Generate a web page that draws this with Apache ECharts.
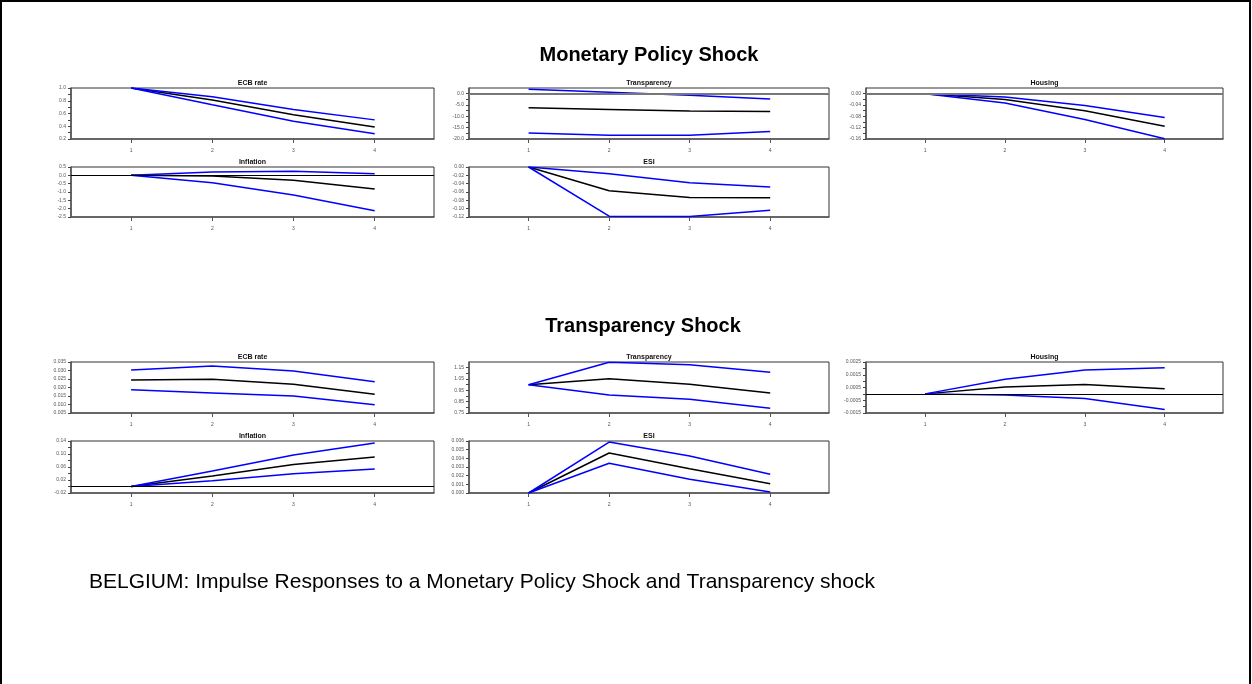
<!DOCTYPE html>
<html>
<head>
<meta charset="utf-8">
<title>BELGIUM impulse responses</title>
<script src="https://cdn.jsdelivr.net/npm/echarts@6/dist/echarts.min.js"></script>
<style>
html, body { margin: 0; padding: 0; background: #fff; }
#myChart { width: 1252px; height: 684px; }
</style>
</head>
<body>
<div id="myChart"></div>
<script>
// horizon (quarters)
var periods = [1, 2, 3, 4];

// Monetary Policy Shock  (upper band / response / lower band)
var mpEcbUpper = [1.0, 0.863, 0.663, 0.50];
var mpEcbMid = [1.0, 0.81, 0.58, 0.39];
var mpEcbLower = [1.0, 0.737, 0.479, 0.284];
var mpTranspUpper = [2.0, 0.6, -0.75, -2.3];
var mpTranspMid = [-6.2, -7.0, -7.7, -7.9];
var mpTranspLower = [-17.4, -18.3, -18.3, -16.7];
var mpHousingUpper = [0, -0.012, -0.042, -0.084];
var mpHousingMid = [0, -0.021, -0.06, -0.115];
var mpHousingLower = [0, -0.033, -0.091, -0.159];
var mpInflUpper = [0, 0.2, 0.24, 0.1];
var mpInflMid = [0, -0.04, -0.3, -0.82];
var mpInflLower = [0, -0.44, -1.18, -2.12];
var mpEsiUpper = [0, -0.016, -0.038, -0.048];
var mpEsiMid = [0, -0.057, -0.073, -0.074];
var mpEsiLower = [0, -0.118, -0.119, -0.104];

// Transparency Shock
var tsEcbUpper = [0.0303, 0.0326, 0.0297, 0.0234];
var tsEcbMid = [0.0244, 0.0248, 0.0219, 0.016];
var tsEcbLower = [0.0187, 0.0168, 0.015, 0.0099];
var tsTranspUpper = [1.0, 1.197, 1.176, 1.109];
var tsTranspMid = [1.0, 1.053, 1.003, 0.926];
var tsTranspLower = [1.0, 0.909, 0.871, 0.791];
var tsHousingUpper = [0, 0.00114, 0.00188, 0.00204];
var tsHousingMid = [0, 0.00053, 0.00074, 0.0004];
var tsHousingLower = [0, -0.00008, -0.00037, -0.00122];
var tsInflUpper = [0, 0.048, 0.097, 0.134];
var tsInflMid = [0, 0.032, 0.068, 0.091];
var tsInflLower = [0, 0.018, 0.039, 0.054];
var tsEsiUpper = [0, 0.00588, 0.00426, 0.00217];
var tsEsiMid = [0, 0.00462, 0.0028, 0.00107];
var tsEsiLower = [0, 0.00344, 0.00158, 0.00012];

// y tick labels
var mpEcbTicks = [0.2, 0.4, 0.6, 0.8, 1.0];
var mpTranspTicks = [-20, -15, -10, -5, 0];
var mpHousingTicks = [-0.16, -0.12, -0.08, -0.04, 0];
var mpInflTicks = [-2.5, -2.0, -1.5, -1.0, -0.5, 0, 0.5];
var mpEsiTicks = [-0.12, -0.10, -0.08, -0.06, -0.04, -0.02, 0];
var tsEcbTicks = [0.005, 0.010, 0.015, 0.020, 0.025, 0.030, 0.035];
var tsTranspTicks = [0.75, 0.85, 0.95, 1.05, 1.15];
var tsHousingTicks = [-0.0015, -0.0005, 0.0005, 0.0015, 0.0025];
var tsInflTicks = [-0.02, 0.02, 0.06, 0.10, 0.14];
var tsEsiTicks = [0, 0.001, 0.002, 0.003, 0.004, 0.005, 0.006];

var cols = [{ left: 71, width: 363 }, { left: 469, width: 360 }, { left: 866, width: 357 }];
var rows = [{ top: 88, height: 51 }, { top: 167, height: 50 }, { top: 362, height: 51 }, { top: 441, height: 52 }];

var panels = [
  { name: "ECB rate", r: 0, c: 0, up: mpEcbUpper, mid: mpEcbMid, lo: mpEcbLower, min: 0.2, max: 1.0, labels: mpEcbTicks, step: 0.1, digits: 1 },
  { name: "Transparency", r: 0, c: 1, up: mpTranspUpper, mid: mpTranspMid, lo: mpTranspLower, min: -20, max: 2.5, labels: mpTranspTicks, step: 2.5, digits: 1, zero: "gray" },
  { name: "Housing", r: 0, c: 2, up: mpHousingUpper, mid: mpHousingMid, lo: mpHousingLower, min: -0.16, max: 0.02, labels: mpHousingTicks, step: 0.02, digits: 2, zero: "gray" },
  { name: "Inflation", r: 1, c: 0, up: mpInflUpper, mid: mpInflMid, lo: mpInflLower, min: -2.5, max: 0.5, labels: mpInflTicks, step: 0.5, digits: 1, zero: "black" },
  { name: "ESI", r: 1, c: 1, up: mpEsiUpper, mid: mpEsiMid, lo: mpEsiLower, min: -0.12, max: 0, labels: mpEsiTicks, step: 0.02, digits: 2 },
  { name: "ECB rate", r: 2, c: 0, up: tsEcbUpper, mid: tsEcbMid, lo: tsEcbLower, min: 0.005, max: 0.035, labels: tsEcbTicks, step: 0.005, digits: 3 },
  { name: "Transparency", r: 2, c: 1, up: tsTranspUpper, mid: tsTranspMid, lo: tsTranspLower, min: 0.75, max: 1.2, labels: tsTranspTicks, step: 0.05, digits: 2 },
  { name: "Housing", r: 2, c: 2, up: tsHousingUpper, mid: tsHousingMid, lo: tsHousingLower, min: -0.0015, max: 0.0025, labels: tsHousingTicks, step: 0.0005, digits: 4, zero: "black" },
  { name: "Inflation", r: 3, c: 0, up: tsInflUpper, mid: tsInflMid, lo: tsInflLower, min: -0.02, max: 0.14, labels: tsInflTicks, step: 0.02, digits: 2, zero: "black" },
  { name: "ESI", r: 3, c: 1, up: tsEsiUpper, mid: tsEsiMid, lo: tsEsiLower, min: 0, max: 0.006, labels: tsEsiTicks, step: 0.001, digits: 3 }
];

function pairs(vals) {
  return periods.map(function (p, i) { return [p, vals[i]]; });
}

function steps(min, max, step) {
  var out = [];
  var n = Math.round((max - min) / step);
  for (var i = 0; i <= n; i++) out.push(Math.round((min + i * step) * 1e7) / 1e7);
  return out;
}

var myChart = echarts.init(document.getElementById("myChart"));

var option = {
  backgroundColor: "#fff",
  animation: false,
  textStyle: { fontFamily: "Liberation Sans, Arial, sans-serif" },
  title: [
    { text: "Monetary Policy Shock", left: 644, top: 40, textAlign: "center",
      textStyle: { fontSize: 20, fontWeight: "bold", color: "#000" } },
    { text: "Transparency Shock", left: 638, top: 311, textAlign: "center",
      textStyle: { fontSize: 20, fontWeight: "bold", color: "#000" } },
    { text: "BELGIUM: Impulse Responses to a Monetary Policy Shock and Transparency shock", left: 84, top: 567,
      textStyle: { fontSize: 21, fontWeight: "normal", color: "#000" } }
  ],
  graphic: [
    { type: "rect", shape: { x: 1, y: 1, width: 1249, height: 720 }, silent: true,
      style: { fill: "none", stroke: "#000", lineWidth: 2 } }
  ],
  grid: [],
  xAxis: [],
  yAxis: [],
  series: []
};

panels.forEach(function (p, i) {
  var col = cols[p.c], row = rows[p.r];
  // panel title sits just above the frame
  option.title.push({
    text: p.name, left: col.left + col.width / 2, top: row.top - 8, textAlign: "center", padding: 0,
    textStyle: { fontSize: 7, fontWeight: "bold", color: "#111" }
  });
  option.grid.push({
    left: col.left, top: row.top, width: col.width, height: row.height,
    show: true, borderColor: "#333", borderWidth: 1, backgroundColor: "transparent"
  });
  option.xAxis.push({
    type: "value", gridIndex: i, min: 0.26, max: 4.73,
    axisLine: { show: true, onZero: false, lineStyle: { color: "#555", width: 1.5 } },
    axisTick: { show: true, length: 4, customValues: periods, lineStyle: { color: "#555" } },
    axisLabel: { customValues: periods, fontSize: 5, color: "#555", margin: 9 },
    splitLine: { show: false }
  });
  option.yAxis.push({
    type: "value", gridIndex: i, min: p.min, max: p.max,
    axisLine: { show: true, onZero: false, lineStyle: { color: "#555", width: 1.5 } },
    axisTick: { show: true, length: 3, customValues: steps(p.min, p.labels[p.labels.length - 1], p.step), lineStyle: { color: "#444" } },
    axisLabel: {
      customValues: p.labels, fontSize: 5, color: "#555", margin: 5,
      formatter: function (v) { return Number(v).toFixed(p.digits); }
    },
    splitLine: { show: false }
  });

  var mid = {
    name: p.name + " response", type: "line", xAxisIndex: i, yAxisIndex: i,
    data: pairs(p.mid), showSymbol: false, symbol: "none",
    lineStyle: { color: "#000", width: 1.5 }, z: 3
  };
  if (p.zero) {
    mid.markLine = {
      silent: true, symbol: "none", label: { show: false },
      lineStyle: p.zero === "gray" ? { color: "#777", width: 2, type: "solid" } : { color: "#000", width: 1, type: "solid" },
      data: [{ yAxis: 0 }]
    };
  }
  option.series.push(
    { name: p.name + " upper", type: "line", xAxisIndex: i, yAxisIndex: i, data: pairs(p.up),
      showSymbol: false, symbol: "none", lineStyle: { color: "#0000ff", width: 1.5 }, z: 4 },
    mid,
    { name: p.name + " lower", type: "line", xAxisIndex: i, yAxisIndex: i, data: pairs(p.lo),
      showSymbol: false, symbol: "none", lineStyle: { color: "#0000ff", width: 1.5 }, z: 4 }
  );
});

myChart.setOption(option);
window.addEventListener("resize", function () { myChart.resize(); });
</script>
</body>
</html>
